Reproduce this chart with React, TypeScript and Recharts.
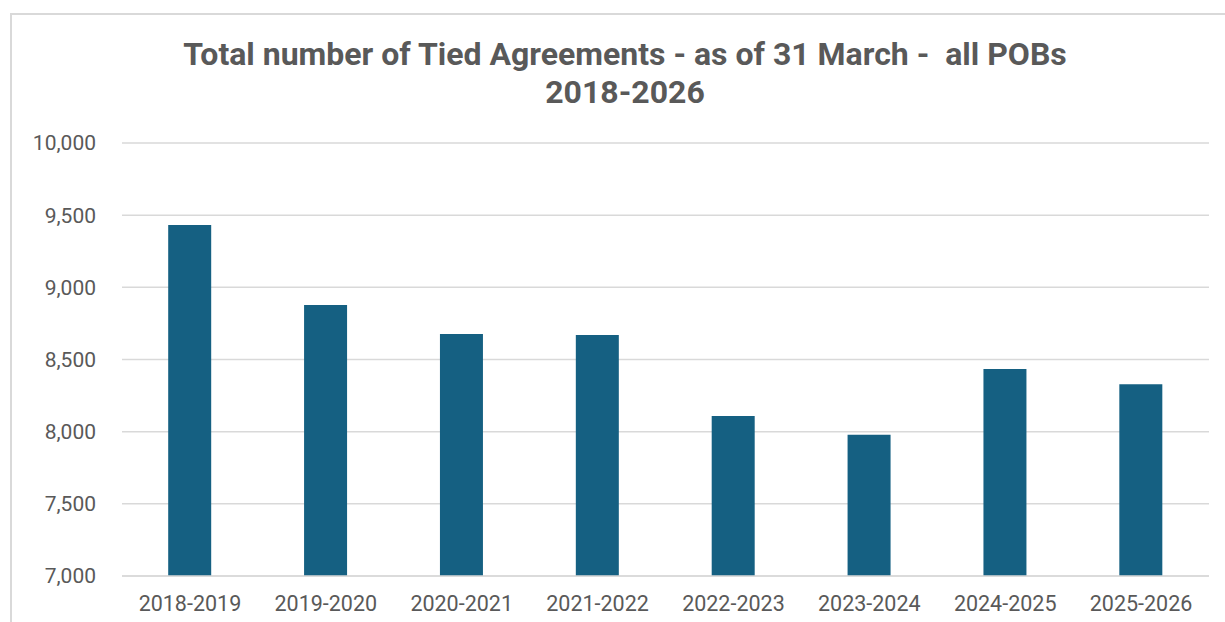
import React from 'react';
import { BarChart, Bar, XAxis, YAxis, CartesianGrid } from 'recharts';

const periods = ['2018-2019', '2019-2020', '2020-2021', '2021-2022', '2022-2023', '2023-2024', '2024-2025', '2025-2026'];
const tiedAgreements = [9432, 8878, 8677, 8670, 8109, 7978, 8435, 8329];
const yTicks = [7000, 7500, 8000, 8500, 9000, 9500, 10000];

const data = periods.map((period, i) => ({ period, value: tiedAgreements[i] }));

const textColor = '#595959';
const font = 'Roboto, "Noto Sans", sans-serif';

export default function App() {
  return (
    <div
      style={{
        position: 'absolute',
        left: 10,
        top: 13,
        width: 1230,
        height: 640,
        border: '2px solid #d9d9d9',
        boxSizing: 'border-box',
        background: '#fff',
        fontFamily: font,
      }}
    >
      <div
        style={{
          position: 'absolute',
          left: 0,
          right: 0,
          top: 20,
          textAlign: 'center',
          color: textColor,
          fontWeight: 700,
          fontSize: 32,
          lineHeight: '38px',
          whiteSpace: 'pre',
        }}
      >
        {'Total number of Tied Agreements - as of 31 March -  all POBs\n2018-2026'}
      </div>
      <div style={{ position: 'absolute', left: 0, top: 0 }}>
        <BarChart
          width={1205}
          height={600}
          data={data}
          margin={{ top: 128, right: 8, bottom: 0, left: 0 }}
          barCategoryGap="34%"
        >
          <CartesianGrid vertical={false} stroke="#d9d9d9" strokeWidth={1.5} />
          <XAxis
            dataKey="period"
            axisLine={{ stroke: '#d9d9d9', strokeWidth: 1.5 }}
            tickLine={false}
            tickSize={0}
            tickMargin={20}
            height={39}
            tick={{ fill: textColor, fontSize: 21.5, fontFamily: font }}
          />
          <YAxis
            domain={[7000, 10000]}
            ticks={yTicks}
            allowDataOverflow
            axisLine={false}
            tickLine={false}
            tickSize={0}
            tickMargin={26}
            width={110}
            tickFormatter={(v: number) => v.toLocaleString('en-US')}
            tick={{ fill: textColor, fontSize: 21, fontFamily: font }}
          />
          <Bar dataKey="value" fill="#156082" isAnimationActive={false} />
        </BarChart>
      </div>
    </div>
  );
}
